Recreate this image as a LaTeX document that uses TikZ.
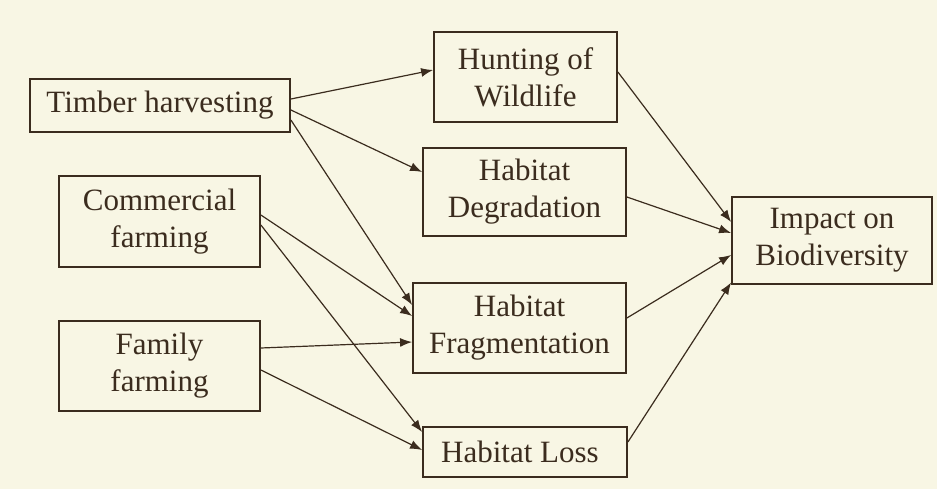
\documentclass[tikz,border=0pt]{standalone}
\usepackage{fontspec}
\setmainfont{Liberation Serif}
\usetikzlibrary{arrows, arrows.meta}
\usetikzlibrary{calc}

\definecolor{paper}{HTML}{F8F6E4}
\definecolor{ink}{HTML}{3B2C1E}

\tikzset{
  box/.style={draw=ink, line width=1.8pt, text=ink, align=center, inner sep=0pt,
    font=\fontsize{31}{37}\selectfont},
  link/.style={draw=ink, line width=1.2pt, -{Latex[length=12pt, width=9pt]}}
}

\begin{document}
\begin{tikzpicture}[x=1pt, y=-1pt]
      \fill[paper] (0,0) rectangle (937,489);
      \useasboundingbox (0,0) rectangle (937,489);

      \node[box, minimum width=260pt, minimum height=53pt] (timber) at (160,105.5) {Timber harvesting};
      \node[box, minimum width=201pt, minimum height=91pt] (commercial) at (159.5,221.5) {Commercial\\farming};
      \node[box, minimum width=201pt, minimum height=90pt] (family) at (159.5,366) {Family\\farming};

      \node[box, minimum width=183pt, minimum height=90pt] (hunting) at (525.5,77) {Hunting of\\Wildlife};
      \node[box, minimum width=203pt, minimum height=88pt] (degradation) at (524.5,192) {Habitat\\Degradation};
      \node[box, minimum width=213pt, minimum height=90pt] (fragmentation) at (519.5,328) {Habitat\\Fragmentation};
      \node[box, minimum width=204pt, minimum height=50pt] (loss) at (525,452) {Habitat Loss\hspace*{10pt}};

      \node[box, minimum width=200pt, minimum height=87pt] (impact) at (832,240.5) {Impact on\\Biodiversity};

      % drivers to threats
      \draw[link] ([yshift=6.5pt]timber.east) -- ([yshift=7pt]hunting.west);
      \draw[link] ([yshift=-4.5pt]timber.east) -- ([yshift=20pt]degradation.west);
      \draw[link] ([yshift=-14.5pt]timber.east) -- ([yshift=23pt]fragmentation.west);
      \draw[link] ([yshift=6.5pt]commercial.east) -- ([yshift=12pt]fragmentation.west);
      \draw[link] ([yshift=-3.5pt]commercial.east) -- ([yshift=20pt]loss.west);
      \draw[link] ([yshift=18pt]family.east) -- ([yshift=-14pt]fragmentation.west);
      \draw[link] ([yshift=-4pt]family.east) -- ([yshift=2pt]loss.west);

      % threats to impact
      \draw[link] ([yshift=5pt]hunting.east) -- ([yshift=18.5pt]impact.west);
      \draw[link] ([yshift=-5pt]degradation.east) -- ([yshift=7.5pt]impact.west);
      \draw[link] ([yshift=10pt]fragmentation.east) -- ([yshift=-14.5pt]impact.west);
      \draw[link] ([yshift=10pt]loss.east) -- ([yshift=-42pt]impact.west);
    \end{tikzpicture}
\end{document}
